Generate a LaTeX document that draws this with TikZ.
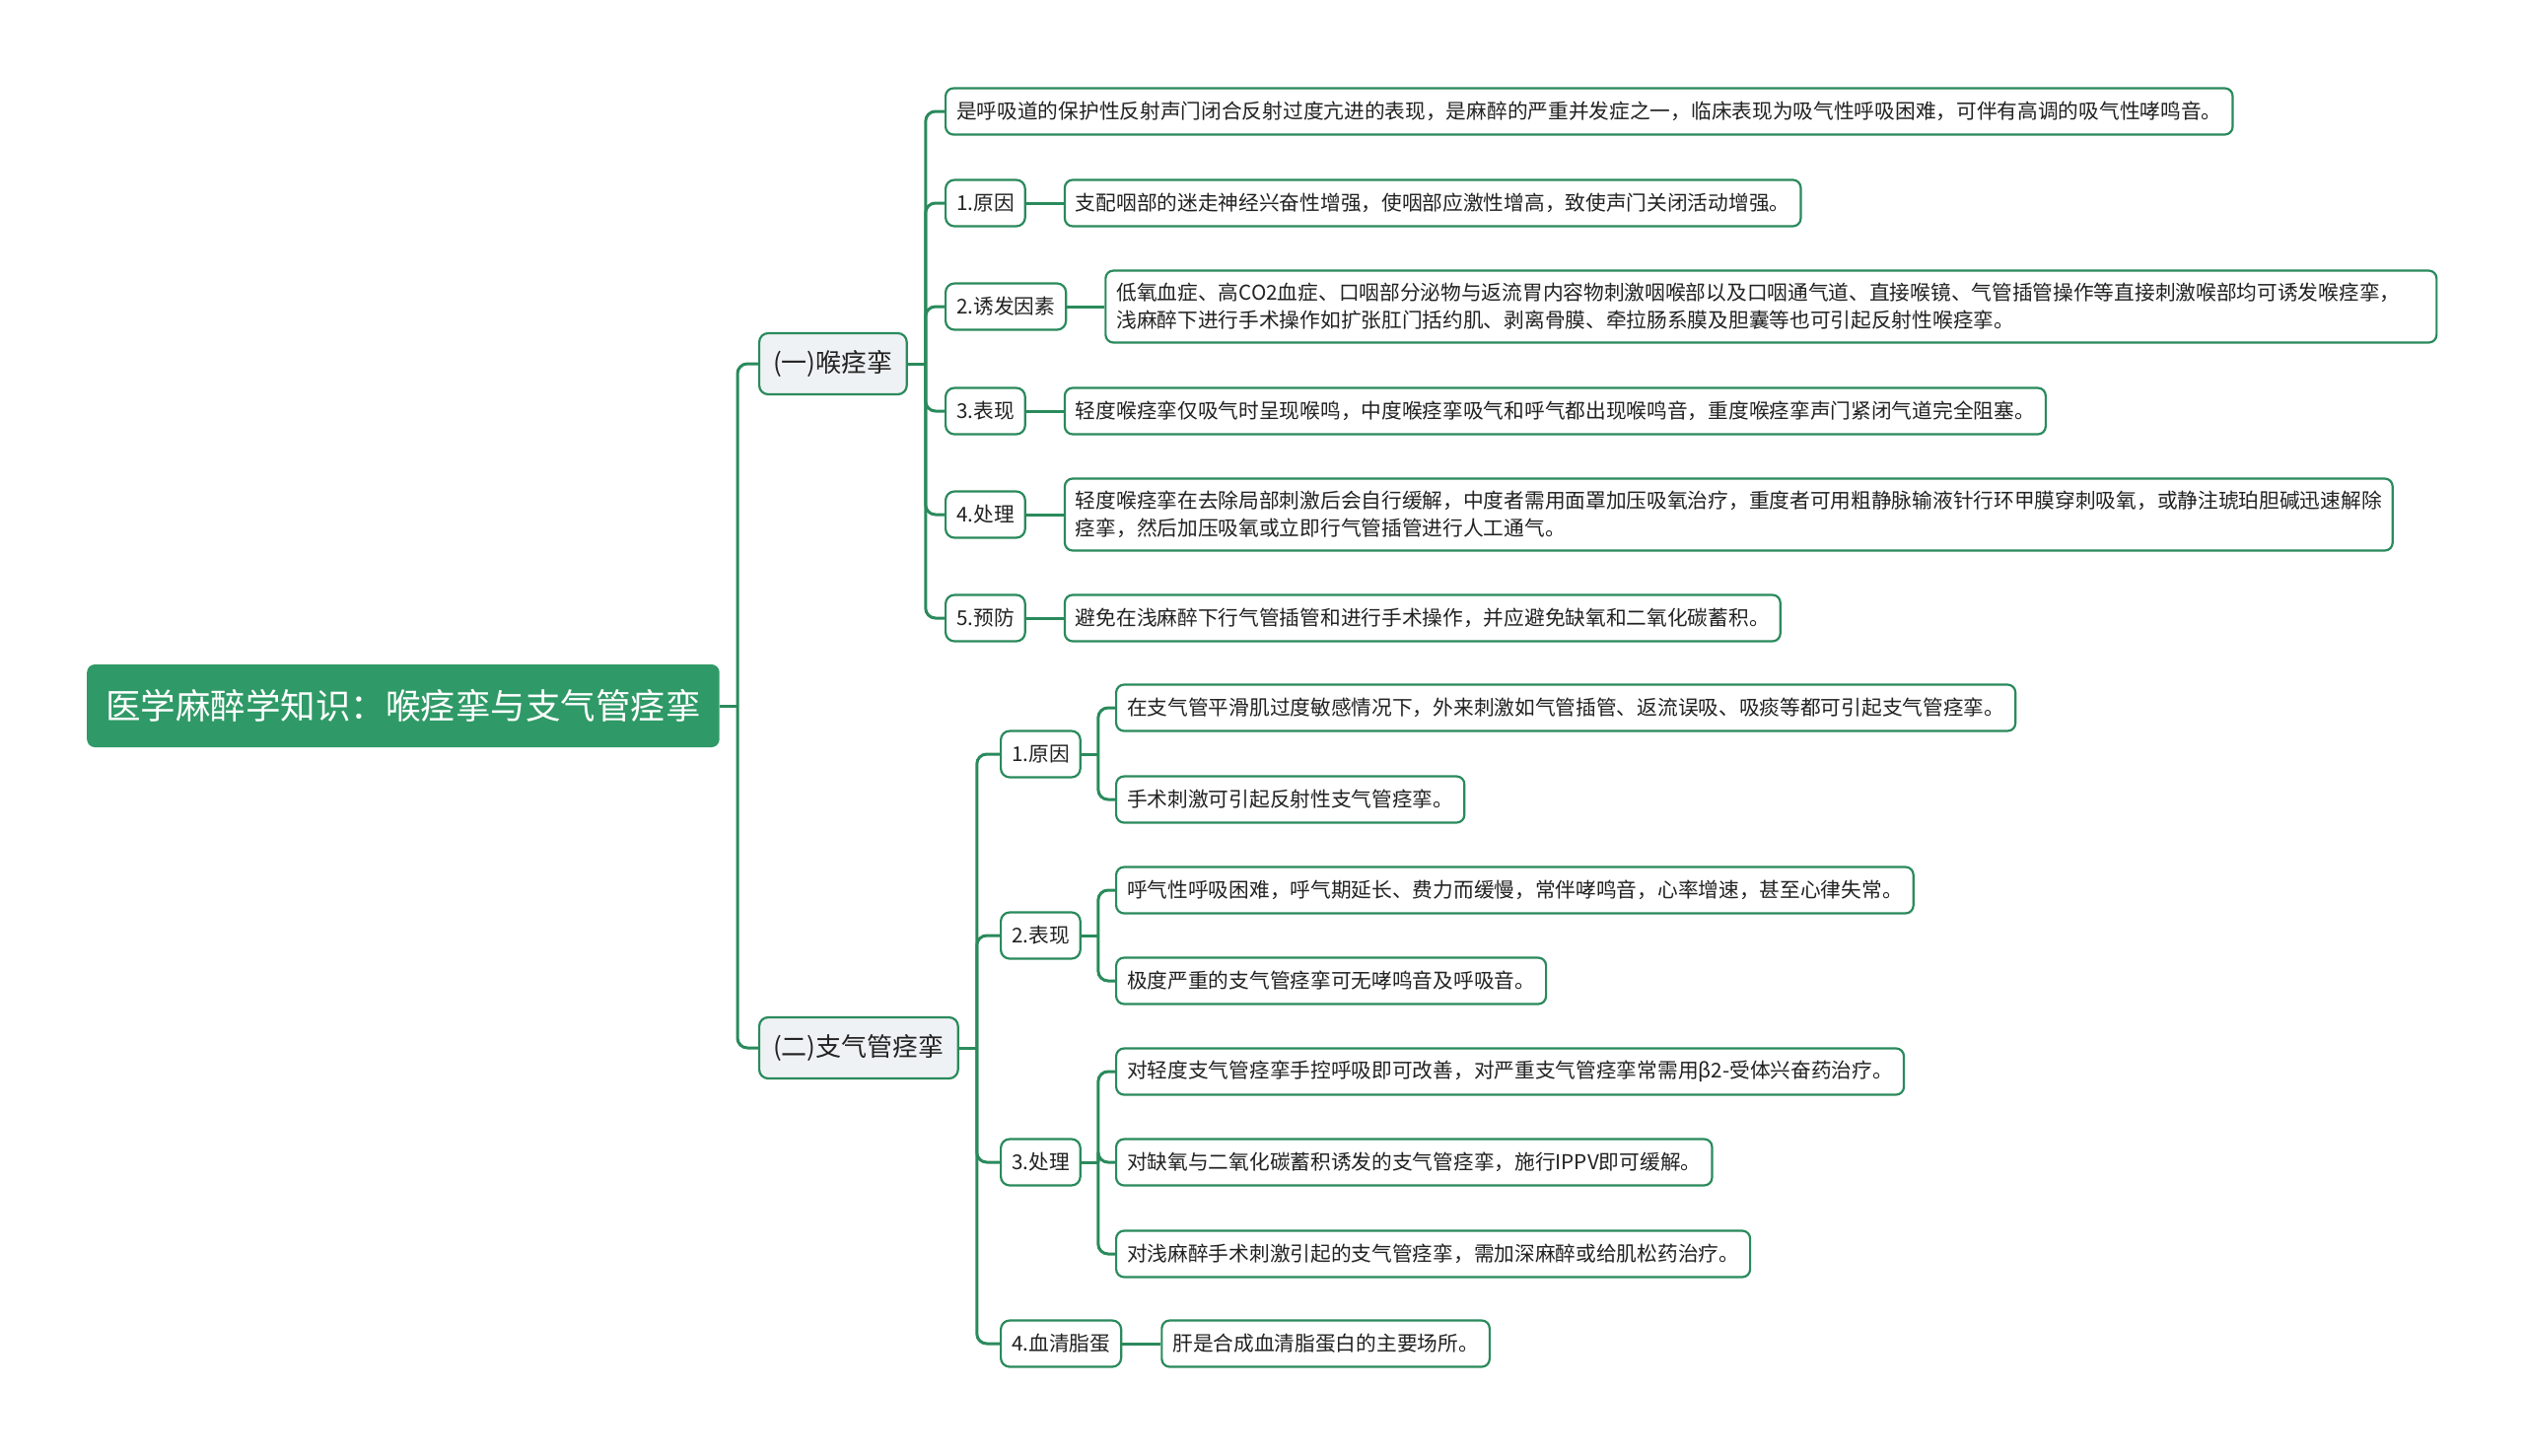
\documentclass[tikz,border=0pt]{standalone}
\usepackage{fontspec}
\newfontfamily\cjk{Noto Sans CJK SC}
\usepackage{tikz}
\usetikzlibrary{positioning}
\usepackage{xcolor}
\definecolor{mapgreen}{HTML}{2F9A67}
\definecolor{linkgreen}{HTML}{2A8A5C}
\definecolor{topicgray}{HTML}{EFF2F4}
\definecolor{inktext}{HTML}{222222}

\begin{document}
\begin{tikzpicture}[
  x=1pt,y=-1pt,
  font=\cjk\fontsize{20.7}{28}\selectfont,
  link/.style={draw=linkgreen,line width=3pt,rounded corners=10pt},
  box/.style={draw=linkgreen,line width=2.2pt,anchor=west,align=left,
    text=inktext,inner ysep=0pt},
  root/.style={fill=mapgreen,text=white,rounded corners=8pt,anchor=west,
    minimum height=84pt,inner xsep=19pt,
    font=\cjk\fontsize{35.5}{40}\selectfont},
  topic/.style={box,fill=topicgray,rounded corners=9pt,minimum height=62pt,
    inner xsep=14pt,font=\cjk\fontsize{26}{30}\selectfont},
  item/.style={box,fill=white,rounded corners=9pt,minimum height=47pt,
    inner xsep=11pt},
  leaf/.style={box,fill=white,rounded corners=8pt,minimum height=47pt,
    inner xsep=11pt},
  oneline/.style={},
  twoline/.style={minimum height=73pt},
  wideline/.style={minimum height=73pt,text width=1328pt}
]
\useasboundingbox (0,0) rectangle (2560,1476);

% Root and the two main branches.
\node[root] (root) at (88,716) {医学麻醉学知识：喉痉挛与支气管痉挛};
\node[topic] (lar) at (769,369) {(一)喉痉挛};
\node[topic] (bro) at (769,1063) {(二)支气管痉挛};
\coordinate (root-fork) at (748,716);
\draw[link] (root.east) -- (root-fork);
\draw[link] (root-fork) |- (lar.west);
\draw[link] (root-fork) |- (bro.west);

% Laryngospasm: a definition and five numbered points.
\coordinate (lar-fork) at ([xshift=18pt]lar.east);
\draw[link] (lar.east) -- (lar-fork);
\node[leaf] (lar-def) at (958,113)
  {是呼吸道的保护性反射声门闭合反射过度亢进的表现，是麻醉的严重并发症之一，临床表现为吸气性呼吸困难，可伴有高调的吸气性哮鸣音。};
\draw[link] (lar-fork) |- (lar-def.west);
\foreach \i/\y/\tag/\shape/\txt in {
  1/206/1.原因/oneline/{支配咽部的迷走神经兴奋性增强，使咽部应激性增高，致使声门关闭活动增强。},
  2/311/2.诱发因素/wideline/{低氧血症、高CO2血症、口咽部分泌物与返流胃内容物刺激咽喉部以及口咽通气道、直接喉镜、气管插管操作等直接刺激喉部均可诱发喉痉挛，\\浅麻醉下进行手术操作如扩张肛门括约肌、剥离骨膜、牵拉肠系膜及胆囊等也可引起反射性喉痉挛。},
  3/417/3.表现/oneline/{轻度喉痉挛仅吸气时呈现喉鸣，中度喉痉挛吸气和呼气都出现喉鸣音，重度喉痉挛声门紧闭气道完全阻塞。},
  4/522/4.处理/twoline/{轻度喉痉挛在去除局部刺激后会自行缓解，中度者需用面罩加压吸氧治疗，重度者可用粗静脉输液针行环甲膜穿刺吸氧，或静注琥珀胆碱迅速解除\\痉挛，然后加压吸氧或立即行气管插管进行人工通气。},
  5/627/5.预防/oneline/{避免在浅麻醉下行气管插管和进行手术操作，并应避免缺氧和二氧化碳蓄积。}} {
  \node[item] (lar-\i) at (958,\y) {\tag};
  \node[leaf,\shape,right=38pt of lar-\i] (lar-leaf-\i) {\txt};
  \draw[link] (lar-fork) |- (lar-\i.west);
  \draw[link] (lar-\i.east) -- (lar-leaf-\i.west);
}

% Bronchospasm: numbered points, most with several leaves.
\coordinate (bro-fork) at ([xshift=18pt]bro.east);
\draw[link] (bro.east) -- (bro-fork);
\foreach \i/\y/\tag in {1/765/1.原因,2/949/2.表现,3/1179/3.处理,4/1363/4.血清脂蛋} {
  \node[item] (bro-\i) at (1014,\y) {\tag};
  \draw[link] (bro-fork) |- (bro-\i.west);
  \coordinate (bro-fork-\i) at ([xshift=17pt]bro-\i.east);
}
\foreach \i/\j/\y/\txt in {
  1/1/718/{在支气管平滑肌过度敏感情况下，外来刺激如气管插管、返流误吸、吸痰等都可引起支气管痉挛。},
  1/2/811/{手术刺激可引起反射性支气管痉挛。},
  2/1/903/{呼气性呼吸困难，呼气期延长、费力而缓慢，常伴哮鸣音，心率增速，甚至心律失常。},
  2/2/995/{极度严重的支气管痉挛可无哮鸣音及呼吸音。},
  3/1/1087/{对轻度支气管痉挛手控呼吸即可改善，对严重支气管痉挛常需用β2-受体兴奋药治疗。},
  3/2/1179/{对缺氧与二氧化碳蓄积诱发的支气管痉挛，施行IPPV即可缓解。},
  3/3/1272/{对浅麻醉手术刺激引起的支气管痉挛，需加深麻醉或给肌松药治疗。}} {
  \node[leaf] (bro-leaf-\i-\j) at (1131,\y) {\txt};
  \draw[link] (bro-fork-\i) |- (bro-leaf-\i-\j.west);
}
\foreach \i in {1,2,3} {
  \draw[link] (bro-\i.east) -- (bro-fork-\i);
}
\node[leaf,right=39pt of bro-4] (bro-leaf-4) {肝是合成血清脂蛋白的主要场所。};
\draw[link] (bro-4.east) -- (bro-leaf-4.west);
\end{tikzpicture}
\end{document}
